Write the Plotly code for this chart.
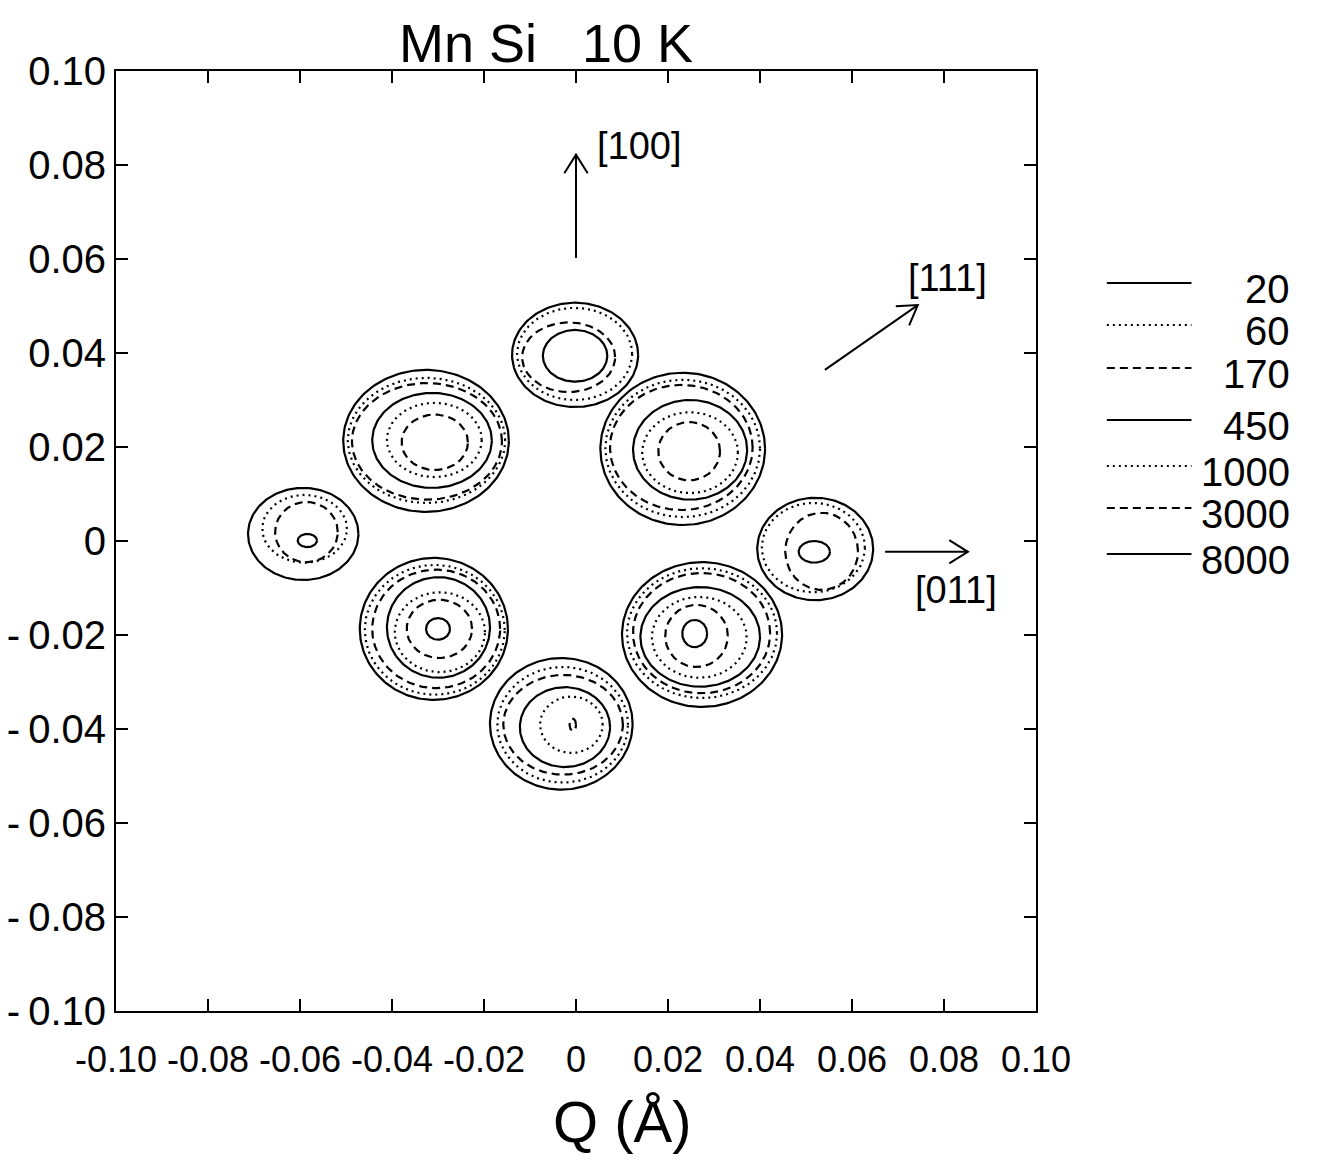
import numpy as np
import plotly.graph_objects as go

# ---------------- data ----------------
levels = [20, 60, 170, 450, 1000, 3000, 8000]
level_dash = ["solid", "2px,4px", "8px,5px", "solid", "2px,4px", "8px,5px", "solid"]

# contour lines: peak, level, centre x, centre y, half-width x, half-width y  (Q in 1/Å)
ct_peak = (["UL"] * 6 + ["T"] * 4 + ["UR"] * 6 + ["L"] * 4 + ["R"] * 4
           + ["LL"] * 7 + ["B"] * 6 + ["LR"] * 7)
ct_level = ([20, 60, 170, 450, 1000, 3000]
            + [20, 60, 170, 450]
            + [20, 60, 170, 450, 1000, 3000]
            + [20, 60, 170, 450]
            + [20, 60, 170, 450]
            + [20, 60, 170, 450, 1000, 3000, 8000]
            + [20, 60, 170, 450, 1000, 3000]
            + [20, 60, 170, 450, 1000, 3000, 8000])
ct_x = ([-0.0326, -0.0325, -0.0324, -0.0313, -0.0308, -0.0307]
        + [-0.0002, -0.0003, -0.0016, -0.0002]
        + [0.0232, 0.0232, 0.0229, 0.0248, 0.0248, 0.0246]
        + [-0.0593, -0.0590, -0.0586, -0.0584]
        + [0.0520, 0.0516, 0.0534, 0.0518]
        + [-0.0309, -0.0307, -0.0304, -0.0299, -0.0296, -0.0297, -0.0300]
        + [-0.0032, -0.0029, -0.0028, -0.0024, -0.0010, -0.0007]
        + [0.0274, 0.0274, 0.0273, 0.0270, 0.0268, 0.0262, 0.0258])
ct_y = ([0.0213, 0.0214, 0.0212, 0.0214, 0.0215, 0.0210]
        + [0.0396, 0.0398, 0.0391, 0.0394]
        + [0.0196, 0.0197, 0.0199, 0.0194, 0.0188, 0.0191]
        + [0.0015, 0.0026, 0.0019, 0.0001]
        + [-0.0017, -0.0014, -0.0022, -0.0023]
        + [-0.0187, -0.0189, -0.0187, -0.0184, -0.0194, -0.0187, -0.0187]
        + [-0.0389, -0.0391, -0.0391, -0.0396, -0.0391, -0.0391]
        + [-0.0199, -0.0196, -0.0196, -0.0204, -0.0205, -0.0202, -0.0197])
ct_rx = ([0.0180, 0.0171, 0.0163, 0.0130, 0.0103, 0.0072]
         + [0.0137, 0.0125, 0.0101, 0.0070]
         + [0.0179, 0.0168, 0.0155, 0.0124, 0.0104, 0.0067]
         + [0.0120, 0.0092, 0.0068, 0.0021]
         + [0.0126, 0.0112, 0.0079, 0.0034]
         + [0.0161, 0.0152, 0.0139, 0.0112, 0.0098, 0.0071, 0.0026]
         + [0.0155, 0.0142, 0.0130, 0.0098, 0.0068, 0.0007]
         + [0.0174, 0.0163, 0.0149, 0.0130, 0.0103, 0.0068, 0.0027])
ct_ry = ([0.0151, 0.0133, 0.0124, 0.0101, 0.0079, 0.0059]
         + [0.0111, 0.0098, 0.0074, 0.0055]
         + [0.0162, 0.0146, 0.0133, 0.0106, 0.0086, 0.0062]
         + [0.0098, 0.0072, 0.0064, 0.0014]
         + [0.0109, 0.0095, 0.0082, 0.0023]
         + [0.0151, 0.0138, 0.0126, 0.0107, 0.0085, 0.0062, 0.0023]
         + [0.0140, 0.0123, 0.0106, 0.0085, 0.0060, 0.0013]
         + [0.0154, 0.0138, 0.0128, 0.0106, 0.0086, 0.0066, 0.0029])

# crystal direction arrows: label, tail x, tail y, tip x, tip y, label x, label y
arrow_label = ["[100]", "[111]", "[011]"]
arrow_x0 = [0.0, 0.0541, 0.0672]
arrow_y0 = [0.0602, 0.0364, -0.0023]
arrow_x1 = [0.0, 0.0743, 0.0852]
arrow_y1 = [0.0822, 0.0502, -0.0023]
arrow_tx = [0.0137, 0.0807, 0.0826]
arrow_ty = [0.0840, 0.0560, -0.0104]

tick_vals = [-0.10, -0.08, -0.06, -0.04, -0.02, 0.0, 0.02, 0.04, 0.06, 0.08, 0.10]
x_tick_text = ["-0.10", "-0.08", "-0.06", "-0.04", "-0.02", "0",
               "0.02", "0.04", "0.06", "0.08", "0.10"]
y_tick_text = ["-\u20090.10", "-\u20090.08", "-\u20090.06", "-\u20090.04", "-\u20090.02", "0",
               "0.02", "0.04", "0.06", "0.08", "0.10"]

# ---------------- figure ----------------
# the page body has an 8 px margin, so the figure is 8 px smaller than the window
W, H = 1309, 1159
ML, MR, MT, MB = 108, 281, 63, 156
PW, PH = W - ML - MR, H - MT - MB
px_per_x = PW / 0.2
px_per_y = PH / 0.2
FONT = "Liberation Sans, Arial, sans-serif"

fig = go.Figure()
theta = np.linspace(0, 2 * np.pi, 181)
for lev, dash in zip(levels, level_dash):
    xs, ys = [], []
    for lv, cx, cy, rx, ry in zip(ct_level, ct_x, ct_y, ct_rx, ct_ry):
        if lv != lev:
            continue
        xs += list(cx + rx * np.cos(theta)) + [None]
        ys += list(cy + ry * np.sin(theta)) + [None]
    fig.add_trace(go.Scatter(x=xs, y=ys, mode="lines", name=str(lev),
                             line=dict(color="black", width=2.2, dash=dash),
                             hoverinfo="skip", showlegend=False))

shapes = []
annotations = []
# arrows with open V heads
head_len, head_ang = 22.0, np.radians(32)
for lab, x0, y0, x1, y1, tx, ty in zip(arrow_label, arrow_x0, arrow_y0, arrow_x1,
                                       arrow_y1, arrow_tx, arrow_ty):
    shapes.append(dict(type="line", xref="x", yref="y", x0=x0, y0=y0, x1=x1, y1=y1,
                       line=dict(color="black", width=2)))
    dxp, dyp = (x1 - x0) * px_per_x, (y1 - y0) * px_per_y
    n = np.hypot(dxp, dyp)
    ux, uy = dxp / n, dyp / n
    pts = []
    for s in (1, -1):
        c, si = np.cos(s * head_ang), np.sin(s * head_ang)
        rx_, ry_ = ux * c - uy * si, ux * si + uy * c
        pts.append((x1 - head_len * rx_ / px_per_x, y1 - head_len * ry_ / px_per_y))
    path = "M {},{} L {},{} L {},{}".format(pts[0][0], pts[0][1], x1, y1, pts[1][0], pts[1][1])
    shapes.append(dict(type="path", xref="x", yref="y", path=path,
                       line=dict(color="black", width=2)))
    annotations.append(dict(x=tx, y=ty, xref="x", yref="y", text=lab, showarrow=False,
                            font=dict(family=FONT, size=38, color="black"),
                            xanchor="center", yanchor="middle"))

# legend drawn at the right: line sample + level value
leg_y = [0.7745, 0.7298, 0.6840, 0.6287, 0.5798, 0.5351, 0.4862]
for i, (lev, dash) in enumerate(zip(levels, level_dash)):
    y = leg_y[i]
    shapes.append(dict(type="line", xref="paper", yref="paper",
                       x0=1.077, x1=1.169, y0=y, y1=y,
                       line=dict(color="black", width=2, dash=dash)))
    annotations.append(dict(x=1.278, y=y - 0.006, xref="paper", yref="paper",
                            text=str(lev), showarrow=False,
                            font=dict(family=FONT, size=40, color="black"),
                            xanchor="right", yanchor="middle"))

annotations.append(dict(x=0.467, y=1.030, xref="paper", yref="paper",
                        text="Mn Si   10 K", showarrow=False,
                        font=dict(family=FONT, size=54, color="black"),
                        xanchor="center", yanchor="middle"))
annotations.append(dict(x=0.55, y=-0.118, xref="paper", yref="paper",
                        text="Q (Å)", showarrow=False,
                        font=dict(family=FONT, size=58, color="black"),
                        xanchor="center", yanchor="middle"))

axis_common = dict(range=[-0.1, 0.1], tickvals=tick_vals, ticks="inside", ticklen=12,
                   tickwidth=1.5, tickcolor="black", showline=True, linewidth=2,
                   linecolor="black", mirror="ticks", showgrid=False, zeroline=False,
                   automargin=False, tickangle=0)
fig.update_layout(
    width=W, height=H,
    margin=dict(l=ML, r=MR, t=MT, b=MB),
    paper_bgcolor="white", plot_bgcolor="white",
    xaxis=dict(**axis_common, ticktext=x_tick_text, ticklabelstandoff=16,
               tickfont=dict(family=FONT, size=36, color="black")),
    yaxis=dict(**axis_common, ticktext=y_tick_text,
               tickfont=dict(family=FONT, size=40, color="black")),
    shapes=shapes, annotations=annotations, showlegend=False,
)

fig.write_html("out.html")
